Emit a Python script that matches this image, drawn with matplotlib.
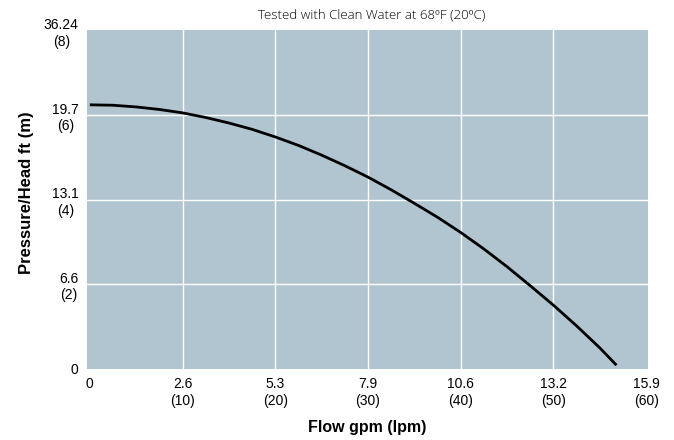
import matplotlib.pyplot as plt

# pump curve: flow in lpm, head in m
flow_lpm = [0, 2.5, 5, 7.5, 10, 12.5, 15, 17.5, 20, 22.5, 25, 27.5, 30, 32.5,
            35, 37.5, 40, 42.5, 45, 47.5, 50, 52.5, 55, 56.8]
head_m = [6.25, 6.24, 6.2, 6.14, 6.06, 5.95, 5.82, 5.67, 5.49, 5.29, 5.06, 4.81,
          4.54, 4.24, 3.92, 3.59, 3.23, 2.84, 2.42, 1.97, 1.51, 1.02, 0.5, 0.09]

x_ticks = [0, 10, 20, 30, 40, 50, 60]
x_labels = ['0', '2.6\n(10)', '5.3\n(20)', '7.9\n(30)', '10.6\n(40)', '13.2\n(50)', '15.9\n(60)']
y_ticks = [0, 2, 4, 6, 8]
y_labels = ['0', '6.6\n(2)', '13.1\n(4)', '19.7\n(6)', '36.24\n(8)']

plt.rcParams['font.family'] = ['Liberation Sans', 'DejaVu Sans']

fig = plt.figure(figsize=(6.74, 4.40), dpi=100)
ax = fig.add_axes([0.1291, 0.1614, 0.8323, 0.7704])
ax.set_facecolor('#b0c5cf')

ax.plot(flow_lpm, head_m, color='black', lw=2, solid_capstyle='butt')

ax.set_xlim(-0.3, 60.2)
ax.set_ylim(0, 8.02)
ax.set_xticks(x_ticks)
ax.set_xticklabels(x_labels, multialignment='center')
ax.set_yticks(y_ticks)
ax.set_yticklabels(y_labels, multialignment='center')
ax.tick_params(length=0, labelsize=10, pad=6)
ax.grid(color='white', lw=1)
ax.set_axisbelow(True)
# no grid lines on the edges of the plot area
for g in [ax.xaxis.get_gridlines()[0], ax.xaxis.get_gridlines()[-1],
          ax.yaxis.get_gridlines()[0], ax.yaxis.get_gridlines()[-1]]:
    g.set_visible(False)
for s in ax.spines.values():
    s.set_visible(False)

ax.set_xlabel('Flow gpm (lpm)', fontsize=11.5, fontweight='bold', labelpad=9)
ax.set_ylabel('Pressure/Head ft (m)', fontsize=12, fontweight='bold')
ax.yaxis.set_label_coords(-0.095, 0.52)
fig.text(0.552, 0.965, 'Tested with Clean Water at 68ºF (20ºC)', ha='center',
         va='center', fontsize=9.5, family=['Open Sans', 'DejaVu Sans'], fontweight='light')

fig.savefig('out.png')
